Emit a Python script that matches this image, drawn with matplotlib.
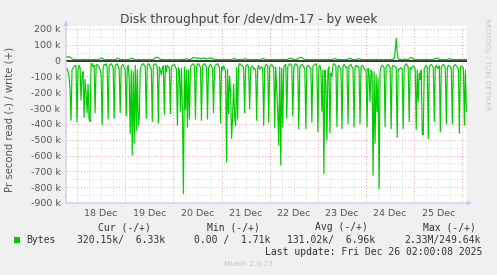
import numpy as np
import matplotlib.pyplot as plt
from matplotlib.patches import Rectangle

# 30 minute averages in k/s, read drawn negative
# first sample Dec 17 19:00, last sample Dec 26 02:00
read_dec17 = [-50, -70, -100, -180, -377, -60, -50, -40, -30, -35]
read_dec18 = [-387, -60, -30, -45, -250, -100, -70, -360, -120, -200, -330, -150,
              -370, -385, -20, -20, -40, -30, -330, -30, -25, -35, -40, -60,
              -90, -408, -40, -25, -30, -20, -45, -370, -35, -25, -20, -30,
              -50, -365, -30, -25, -20, -35, -60, -330, -40, -30, -25, -45]
read_dec19 = [-60, -350, -45, -30, -120, -463, -60, -598, -70, -520, -30, -442,
              -60, -408, -360, -60, -35, -25, -20, -30, -40, -365, -30, -20,
              -25, -40, -55, -385, -30, -25, -20, -30, -45, -395, -40, -60,
              -90, -50, -35, -340, -30, -70, -30, -40, -50, -335, -40, -30]
read_dec20 = [-30, -25, -40, -55, -410, -45, -60, -320, -50, -310, -841, -40,
              -310, -60, -420, -60, -370, -45, -30, -25, -20, -35, -370, -40,
              -25, -20, -30, -45, -378, -35, -25, -20, -30, -40, -370, -45,
              -30, -25, -35, -50, -330, -40, -30, -25, -20, -30, -45, -395]
read_dec21 = [-40, -60, -35, -50, -70, -640, -55, -335, -100, -200, -493, -360,
              -150, -350, -410, -45, -370, -35, -20, -25, -30, -35, -45, -330,
              -40, -30, -25, -45, -305, -50, -40, -35, -55, -50, -60, -378,
              -45, -30, -55, -45, -40, -50, -410, -45, -30, -25, -35, -390]
read_dec22 = [-40, -30, -25, -35, -45, -425, -40, -180, -320, -535, -40, -660,
              -50, -420, -45, -30, -25, -365, -40, -30, -20, -25, -35, -350,
              -45, -30, -20, -30, -40, -430, -40, -30, -25, -30, -40, -50,
              -430, -40, -30, -35, -45, -50, -390, -40, -30, -25, -20, -35]
read_dec23 = [-450, -45, -30, -60, -320, -60, -715, -60, -150, -503, -60, -40,
              -455, -80, -100, -30, -20, -25, -35, -420, -40, -30, -45, -55,
              -430, -40, -25, -30, -45, -40, -400, -35, -30, -25, -40, -50,
              -420, -45, -30, -40, -35, -45, -400, -40, -30, -35, -50, -60]
read_dec24 = [-60, -420, -50, -90, -260, -60, -80, -725, -70, -524, -90, -324,
              -110, -809, -70, -40, -30, -35, -45, -419, -40, -30, -25, -35,
              -45, -430, -40, -30, -35, -40, -45, -486, -55, -60, -50, -45,
              -55, -430, -40, -30, -20, -30, -40, -387, -45, -55, -40, -35]
read_dec25 = [-40, -55, -435, -60, -260, -80, -120, -60, -462, -470, -50, -40,
              -30, -45, -493, -40, -30, -25, -35, -45, -387, -40, -30, -50,
              -45, -35, -450, -40, -30, -25, -35, -50, -400, -45, -30, -35,
              -40, -55, -400, -40, -30, -25, -35, -45, -50, -460, -40, -35]
read_dec26 = [-40, -50, -408, -60, -320]

write_dec17 = [22, 24, 25, 20, 18, 10, 8, 6, 6, 7]
write_dec18 = [6, 5, 6, 7, 6, 5, 6, 8, 6, 6, 5, 6,
               7, 6, 6, 5, 6, 6, 7, 6, 6, 6, 8, 10,
               15, 16, 9, 6, 6, 5, 6, 7, 6, 6, 6, 5,
               6, 6, 7, 8, 14, 15, 8, 6, 6, 7, 6, 6]
write_dec19 = [6, 6, 7, 6, 8, 10, 14, 15, 10, 6, 6, 5,
               6, 7, 6, 6, 5, 6, 6, 7, 6, 6, 6, 8,
               6, 6, 7, 6, 8, 12, 18, 20, 20, 18, 12, 8,
               6, 6, 7, 6, 6, 5, 6, 6, 7, 6, 6, 6]
write_dec20 = [6, 6, 7, 6, 6, 5, 6, 7, 6, 6, 8, 6,
               10, 12, 8, 6, 7, 6, 10, 16, 20, 18, 16, 15,
               14, 16, 14, 12, 14, 15, 16, 14, 12, 10, 12, 14,
               16, 15, 14, 12, 10, 8, 7, 6, 6, 7, 6, 6]
write_dec21 = [6, 6, 7, 6, 6, 5, 6, 7, 6, 6, 6, 8,
               10, 12, 10, 6, 6, 5, 6, 6, 7, 6, 8, 10,
               12, 8, 6, 6, 7, 6, 6, 5, 6, 6, 7, 6,
               6, 6, 6, 7, 8, 12, 12, 8, 6, 6, 7, 6]
write_dec22 = [6, 6, 7, 6, 6, 5, 6, 7, 6, 6, 6, 6,
               8, 6, 6, 7, 6, 6, 8, 10, 12, 14, 12, 8,
               6, 6, 6, 8, 12, 16, 18, 20, 18, 14, 10, 8,
               6, 6, 7, 6, 6, 5, 6, 7, 6, 6, 8, 6]
write_dec23 = [6, 6, 7, 6, 6, 5, 6, 7, 6, 6, 6, 8,
               6, 6, 7, 8, 10, 12, 10, 8, 6, 6, 7, 6,
               6, 5, 6, 6, 7, 6, 8, 12, 14, 12, 8, 6,
               6, 7, 6, 6, 10, 12, 10, 6, 6, 7, 6, 6]
write_dec24 = [6, 6, 7, 6, 6, 5, 6, 7, 6, 6, 6, 8,
               6, 6, 7, 6, 6, 5, 6, 6, 7, 6, 6, 6,
               8, 6, 6, 8, 12, 60, 140, 55, 12, 8, 6, 6,
               7, 6, 8, 10, 8, 6, 6, 10, 16, 20, 16, 10]
write_dec25 = [8, 6, 6, 7, 6, 6, 5, 6, 7, 6, 6, 6,
               8, 6, 6, 7, 6, 6, 6, 8, 10, 12, 14, 16,
               12, 8, 6, 6, 7, 6, 6, 5, 6, 8, 10, 12,
               10, 8, 6, 6, 7, 6, 6, 5, 6, 6, 7, 6]
write_dec26 = [6, 6, 7, 6, 6]

day_labels = ['18 Dec', '19 Dec', '20 Dec', '21 Dec', '22 Dec', '23 Dec', '24 Dec', '25 Dec']
y_ticks = [200, 100, 0, -100, -200, -300, -400, -500, -600, -700, -800, -900]

legend_heads = ['Cur (-/+)', 'Min (-/+)', 'Avg (-/+)', 'Max (-/+)']
legend_vals = ['320.15k/  6.33k', '0.00 /  1.71k', '131.02k/  6.96k', '2.33M/249.64k']

read = np.array(read_dec17 + read_dec18 + read_dec19 + read_dec20 + read_dec21
                + read_dec22 + read_dec23 + read_dec24 + read_dec25 + read_dec26)
write = np.array(write_dec17 + write_dec18 + write_dec19 + write_dec20 + write_dec21
                 + write_dec22 + write_dec23 + write_dec24 + write_dec25 + write_dec26)
# hours since Dec 18 00:00
t_read = (np.arange(len(read)) - len(read_dec17)) / 2
t_write = (np.arange(len(write)) - len(write_dec17)) / 2

W, H = 497, 275
fig = plt.figure(figsize=(W / 100, H / 100), dpi=100, facecolor='#f0f0f0')
ax = fig.add_axes([66 / W, 72 / H, 401 / W, 177 / H])
ax.set_facecolor('white')
ax.set_xlim(-5.5, 194.3)
ax.set_ylim(-900, 218)

# rrdtool style grid: grey every 50k / 6h, red every 100k / day
dots = (0, (1, 2))
for y in np.arange(-850, 201, 50):
    col = '#eca4a4' if y % 100 == 0 else '#d6d6d6'
    ax.axhline(y, color=col, lw=0.7, ls=dots, zorder=1)
for h in np.arange(0, 194, 6):
    col = '#eca4a4' if h % 24 == 0 else '#d6d6d6'
    ax.axvline(h, color=col, lw=0.7, ls=dots, zorder=1)

ax.plot(t_read, read, color='#00cc00', lw=0.85, zorder=2)
ax.axhline(0, color='black', lw=1.1, zorder=3)
ax.plot(t_write, write, color='#00cc00', lw=0.85, zorder=4)

ax.set_yticks(y_ticks)
ax.set_yticklabels([f'{v} k' if v != 0 else '0' for v in y_ticks])
ax.set_xticks([12 + 24 * i for i in range(len(day_labels))])
ax.set_xticklabels(day_labels)
ax.tick_params(axis='both', length=0, labelsize=6.8, colors='#555555', pad=4)
for s in ax.spines.values():
    s.set_visible(False)

# axis arrows
arrow = dict(arrowstyle='-|>', color='#c4c4ee', lw=0.8, mutation_scale=6, shrinkA=0, shrinkB=0)
ax.annotate('', xy=(0, 1.03), xytext=(0, 0), xycoords='axes fraction', arrowprops=arrow)
ax.annotate('', xy=(1.012, 0), xytext=(0, 0), xycoords='axes fraction', arrowprops=arrow)

fig.text(0.5, 1 - 20 / H, 'Disk throughput for /dev/dm-17 - by week',
         ha='center', va='center', fontsize=8.8, color='#444444')
fig.text(10 / W, 1 - 119 / H, 'Pr second read (-) / write (+)', rotation=90,
         ha='center', va='center', fontsize=7.3, color='#555555')
fig.text(487 / W, 1 - 18 / H, 'RRDTOOL / TOBI OETIKER', rotation=270,
         ha='center', va='top', fontsize=5.2, color='#c8c8c8')

mono = dict(family='DejaVu Sans Mono', fontsize=7, color='#333333', va='center')
for txt, x in zip(legend_heads, [98, 207, 315, 423]):
    fig.text(x / W, 1 - 227 / H, txt, **mono)
for txt, x in zip(legend_vals, [77, 194, 287, 404]):
    fig.text(x / W, 1 - 240 / H, txt, **mono)
fig.text(26 / W, 1 - 240 / H, 'Bytes', **mono)
fig.patches.append(Rectangle((14 / W, 1 - 243 / H), 6 / W, 6 / H, transform=fig.transFigure,
                             facecolor='#00cc00', edgecolor='none'))
fig.text(482 / W, 1 - 252 / H, 'Last update: Fri Dec 26 02:00:08 2025', ha='right', **mono)
fig.text(248 / W, 1 - 264 / H, 'Munin 2.0.73', ha='center', va='center',
         fontsize=5.4, color='#c4c4c4')

fig.savefig('out.png', dpi=100, facecolor=fig.get_facecolor())
